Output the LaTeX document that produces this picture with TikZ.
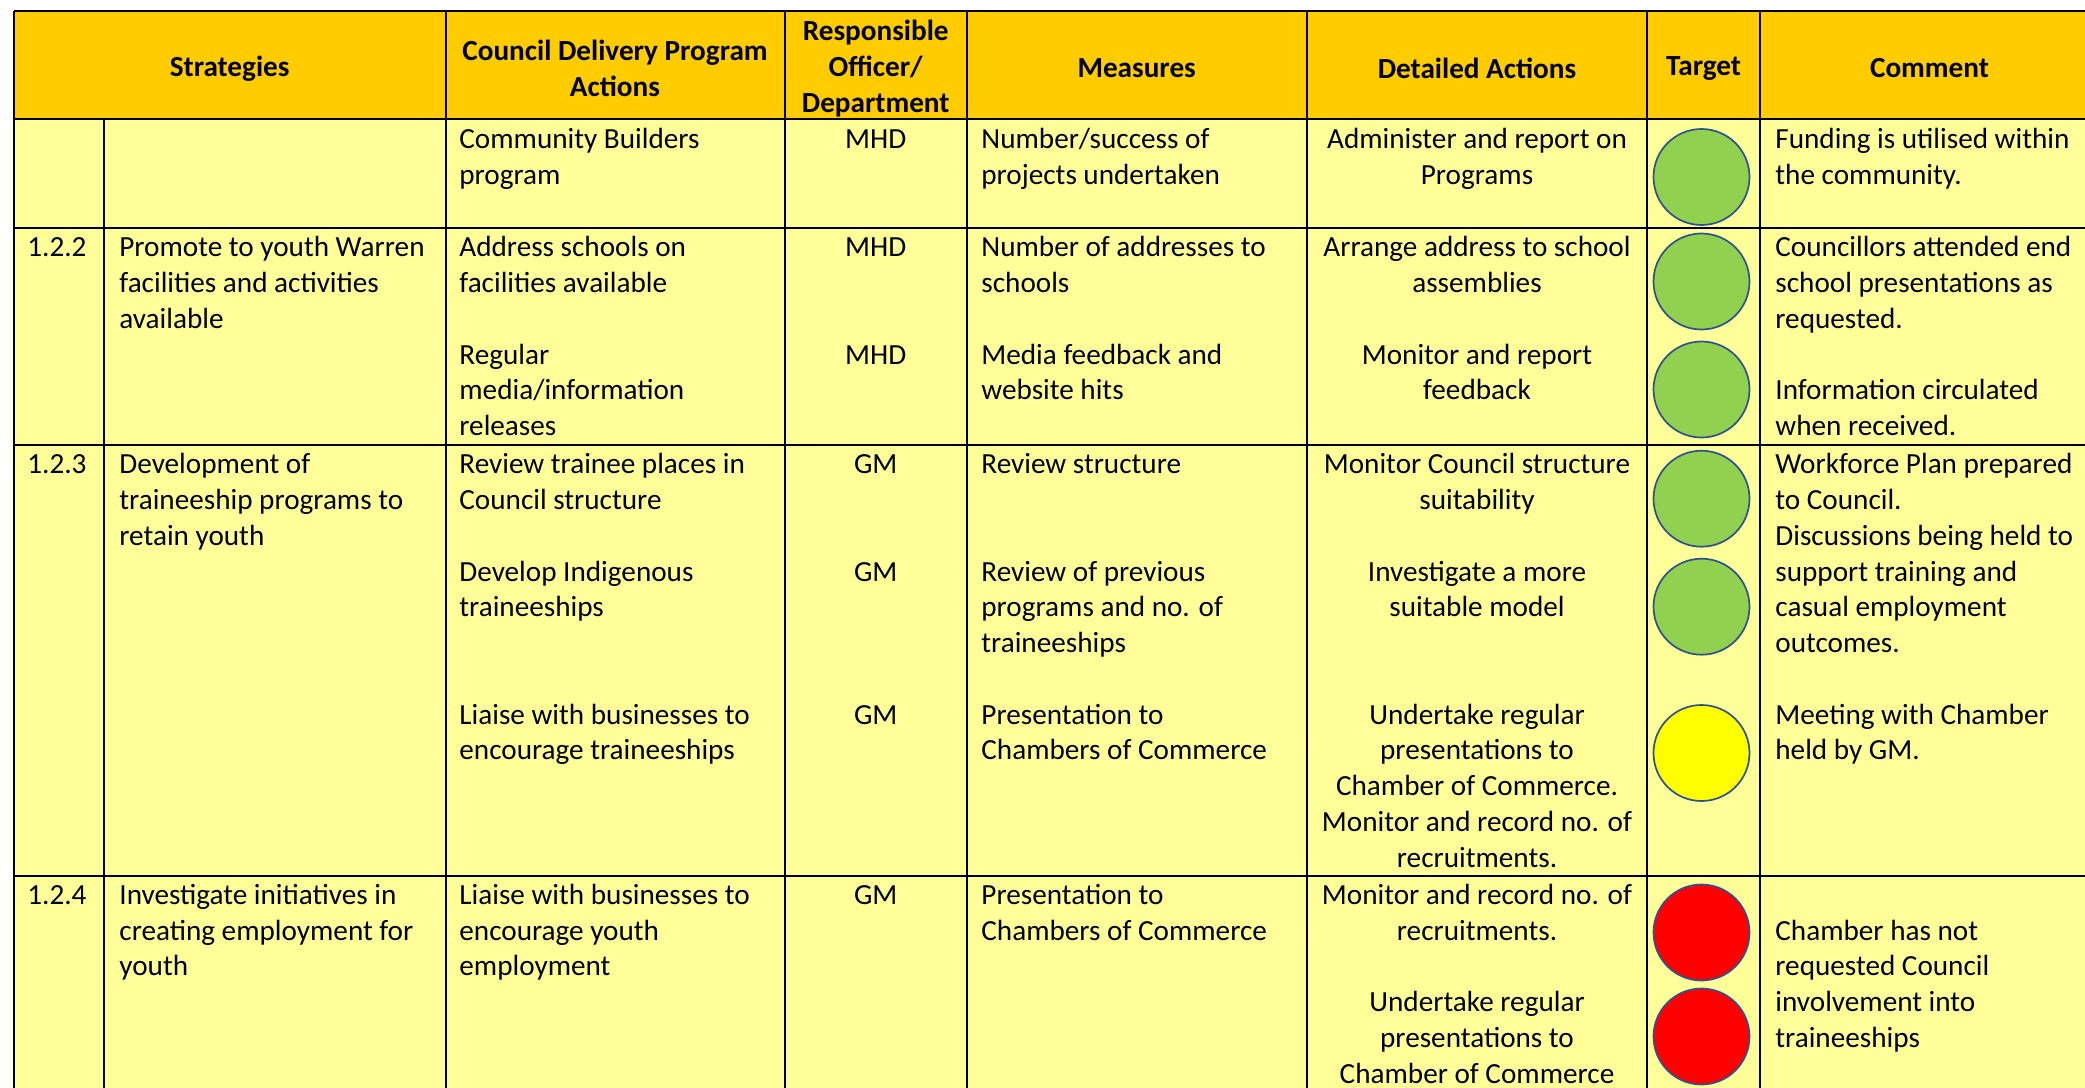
\documentclass[tikz,border=0pt]{standalone}
\usepackage{fontspec}
\setmainfont{Carlito}
\usepackage{tikz}
\definecolor{headfill}{HTML}{FFCC00}
\definecolor{bodyfill}{HTML}{FFFF99}
\definecolor{lampgreen}{HTML}{92D050}
\definecolor{lampyellow}{HTML}{FFFF00}
\definecolor{lampred}{HTML}{FF0000}
\definecolor{ringblue}{HTML}{2F528F}
% cell texts start with \strut, so the north anchor sits 0.7\baselineskip above the first baseline
\tikzstyle{txt}=[inner sep=0pt,font=\fontsize{14.6}{17.875}\selectfont,yshift=12.5125pt]
\tikzstyle{lcell}=[txt,anchor=north west,align=left]
\tikzstyle{ccell}=[txt,anchor=north,align=center]
\tikzstyle{head}=[inner sep=0pt,align=center,font=\fontsize{14.6}{18}\selectfont\bfseries]
\tikzstyle{lamp}=[circle,draw=ringblue,line width=0.85pt,minimum size=48pt,inner sep=0pt]
\tikzstyle{rule}=[draw,line width=1pt]

\begin{document}
\begin{tikzpicture}[x=0.5pt,y=-0.5pt]
    \useasboundingbox (0,0) rectangle (2085,1088);
    \clip (0,0) rectangle (2085,1088);
    % Fill the header band and the body
    \fill[headfill] (14,11) rectangle (2099,119.3);
    \fill[bodyfill] (14,119.3) rectangle (2099,1100);

    % Then the rules of the table
    \foreach \y in {11,119.3,228,445,875.5}
        \path[rule] (14,\y) -- (2099,\y);
    \foreach \x in {14,445.5,785,966.5,1307,1647,1760}
        \path[rule] (\x,11) -- (\x,1100);
    \path[rule] (104,119.3) -- (104,1100);

    % Header
    \node[head] (hstrat) at (229.7,68.5) {Strategies};
    \node[head] (hcdp) at (615,68.5) {Council Delivery Program\\Actions};
    \node[head] (hresp) at (875.7,68.5) {Responsible\\Officer/\\Department};
    \node[head] (hmeas) at (1136.7,68.5) {Measures};
    \node[head] (hdet) at (1477,68.5) {Detailed Actions};
    \node[head] (htarget) at (1703.5,68.5) {Target};
    \node[head] (hcomm) at (1929.5,68.5) {Comment};

    % Community Builders row
    \node[lcell] (cdp1) at (459,148.3) {\strut Community Builders\\program};
    \node[ccell] (resp1) at (875.7,148.3) {\strut MHD};
    \node[lcell] (meas1) at (981,148.3) {\strut Number/success of\\projects undertaken};
    \node[ccell] (det1) at (1477,148.3) {\strut Administer and report on\\Programs};
    \node[lcell] (comm1) at (1775,148.3) {\strut Funding is utilised within\\the community.};

    % 1.2.2
    \node[lcell] (num2) at (27,256.5) {\strut 1.2.2};
    \node[lcell] (strat2) at (119,256.5) {\strut Promote to youth Warren\\facilities and activities\\available};
    \node[lcell] (cdp2a) at (459,256.5) {\strut Address schools on\\facilities available};
    \node[lcell] (cdp2b) at (459,363.75) {\strut Regular\\media/information\\releases};
    \node[ccell] (resp2a) at (875.7,256.5) {\strut MHD};
    \node[ccell] (resp2b) at (875.7,363.75) {\strut MHD};
    \node[lcell] (meas2a) at (981,256.5) {\strut Number of addresses to\\schools};
    \node[lcell] (meas2b) at (981,363.75) {\strut Media feedback and\\website hits};
    \node[ccell] (det2a) at (1477,256.5) {\strut Arrange address to school\\assemblies};
    \node[ccell] (det2b) at (1477,363.75) {\strut Monitor and report\\feedback};
    \node[lcell] (comm2a) at (1775,256.5) {\strut Councillors attended end\\school presentations as\\requested.};
    \node[lcell] (comm2b) at (1775,399.5) {\strut Information circulated\\when received.};

    % 1.2.3
    \node[lcell] (num3) at (27,473.5) {\strut 1.2.3};
    \node[lcell] (strat3) at (119,473.5) {\strut Development of\\traineeship programs to\\retain youth};
    \node[lcell] (cdp3a) at (459,473.5) {\strut Review trainee places in\\Council structure};
    \node[lcell] (cdp3b) at (459,580.75) {\strut Develop Indigenous\\traineeships};
    \node[lcell] (cdp3c) at (459,723.75) {\strut Liaise with businesses to\\encourage traineeships};
    \node[ccell] (resp3a) at (875.7,473.5) {\strut GM};
    \node[ccell] (resp3b) at (875.7,580.75) {\strut GM};
    \node[ccell] (resp3c) at (875.7,723.75) {\strut GM};
    \node[lcell] (meas3a) at (981,473.5) {\strut Review structure};
    \node[lcell] (meas3b) at (981,580.75) {\strut Review of previous\\programs and no. of\\traineeships};
    \node[lcell] (meas3c) at (981,723.75) {\strut Presentation to\\Chambers of Commerce};
    \node[ccell] (det3a) at (1477,473.5) {\strut Monitor Council structure\\suitability};
    \node[ccell] (det3b) at (1477,580.75) {\strut Investigate a more\\suitable model};
    \node[ccell] (det3c) at (1477,723.75) {\strut Undertake regular\\presentations to\\Chamber of Commerce.\\Monitor and record no. of\\recruitments.};
    \node[lcell] (comm3a) at (1775,473.5) {\strut Workforce Plan prepared\\to Council.\\Discussions being held to\\support training and\\casual employment\\outcomes.};
    \node[lcell] (comm3b) at (1775,723.75) {\strut Meeting with Chamber\\held by GM.};

    % 1.2.4
    \node[lcell] (num4) at (27,904) {\strut 1.2.4};
    \node[lcell] (strat4) at (119,904) {\strut Investigate initiatives in\\creating employment for\\youth};
    \node[lcell] (cdp4) at (459,904) {\strut Liaise with businesses to\\encourage youth\\employment};
    \node[ccell] (resp4) at (875.7,904) {\strut GM};
    \node[lcell] (meas4) at (981,904) {\strut Presentation to\\Chambers of Commerce};
    \node[ccell] (det4a) at (1477,904) {\strut Monitor and record no. of\\recruitments.};
    \node[ccell] (det4b) at (1477,1011.25) {\strut Undertake regular\\presentations to\\Chamber of Commerce};
    \node[lcell] (comm4) at (1775,939.75) {\strut Chamber has not\\requested Council\\involvement into\\traineeships};

    % Target lamps
    \foreach \pos/\name/\col in {(1701.5,177)/lamp1/lampgreen, (1701.5,281.5)/lamp2/lampgreen,
        (1701.5,389.5)/lamp3/lampgreen, (1701.5,498.7)/lamp4/lampgreen, (1701.5,606.7)/lamp5/lampgreen,
        (1701.5,753)/lamp6/lampyellow, (1701.5,932.5)/lamp7/lampred, (1701.5,1036.5)/lamp8/lampred}
        \node[lamp,fill=\col] (\name) at \pos {};
\end{tikzpicture}
\end{document}
